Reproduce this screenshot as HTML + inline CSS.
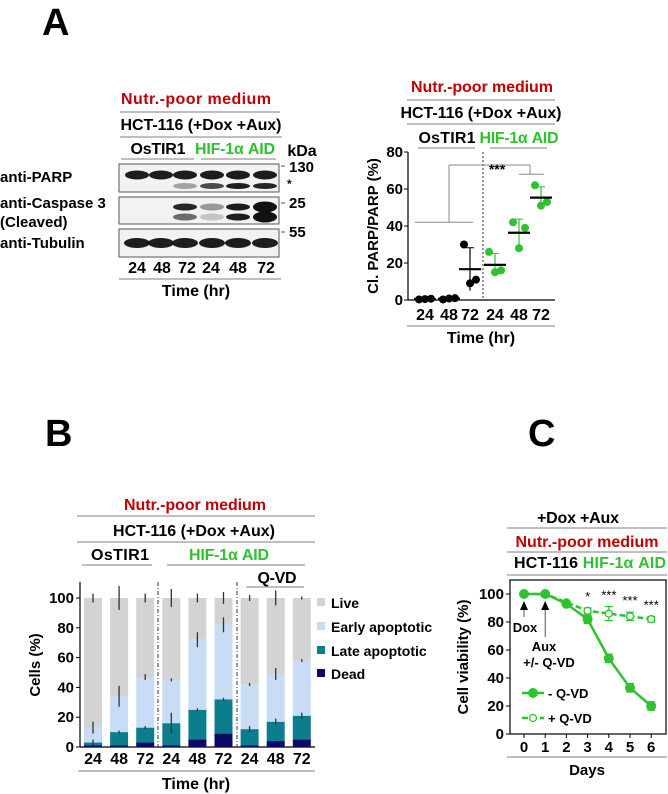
<!DOCTYPE html>
<html><head><meta charset="utf-8"><style>
html,body{margin:0;padding:0;background:#fff}
svg{display:block;font-family:"Liberation Sans",Arial,sans-serif;font-weight:bold}
</style></head><body>
<svg id="fig" width="668" height="794" viewBox="0 0 668 794" xmlns="http://www.w3.org/2000/svg">
<text x="42" y="35" font-size="38">A</text>
<text x="45" y="446" font-size="38">B</text>
<text x="528" y="446" font-size="38">C</text>

<g font-size="16" text-anchor="middle">
<text x="196" y="104" fill="#c00000" textLength="150">Nutr.-poor medium</text>
<line x1="120" y1="112" x2="280" y2="112" stroke="#999" stroke-width="1.2"/>
<text x="201" y="130" textLength="161">HCT-116 (+Dox +Aux)</text>
<line x1="120" y1="137" x2="282" y2="137" stroke="#999" stroke-width="1.2"/>
<text x="158" y="154" textLength="55">OsTIR1</text>
<text x="235" y="154" fill="#2ec22e" textLength="80">HIF-1α AID</text>
<line x1="121" y1="159" x2="194" y2="159" stroke="#999" stroke-width="1.2"/>
<line x1="201" y1="159" x2="276" y2="159" stroke="#999" stroke-width="1.2"/>
<text x="302" y="156">kDa</text>
</g>
<g font-size="15">
<text x="0" y="182">anti-PARP</text>
<text x="0" y="208">anti-Caspase 3</text>
<text x="0" y="227">(Cleaved)</text>
<text x="0" y="248">anti-Tubulin</text>
</g>
<g font-size="15">
<line x1="281" y1="166" x2="285" y2="166" stroke="#555"/><text x="289" y="172">130</text>
<text x="287" y="188" font-size="12">*</text>
<line x1="281" y1="203" x2="285" y2="203" stroke="#555"/><text x="289" y="208">25</text>
<line x1="281" y1="232" x2="285" y2="232" stroke="#555"/><text x="289" y="237">55</text>
</g>
<g id="blots"></g>
<g font-size="16" text-anchor="middle">
<text x="137" y="273">24</text><text x="162" y="273">48</text><text x="187" y="273">72</text>
<text x="211" y="273">24</text><text x="238" y="273">48</text><text x="266" y="273">72</text>
<line x1="119" y1="279" x2="281" y2="279" stroke="#999" stroke-width="1.2"/>
<text x="196" y="296">Time (hr)</text>
</g>

<g font-size="16" text-anchor="middle">
<text x="482" y="92" fill="#c00000" textLength="142">Nutr.-poor medium</text>
<line x1="407" y1="100" x2="555" y2="100" stroke="#999" stroke-width="1.2"/>
<text x="481" y="118" textLength="161">HCT-116 (+Dox +Aux)</text>
<line x1="407" y1="124" x2="555" y2="124" stroke="#999" stroke-width="1.2"/>
<text x="447" y="143" textLength="57">OsTIR1</text>
<text x="519" y="143" fill="#2ec22e" textLength="79">HIF-1α AID</text>
<line x1="418" y1="148" x2="475" y2="148" stroke="#999" stroke-width="1.2"/>
<line x1="490" y1="148" x2="547" y2="148" stroke="#999" stroke-width="1.2"/>
</g>
<g id="scatter"></g>

<g font-size="16" text-anchor="middle">
<text x="195" y="510" fill="#c00000" textLength="142">Nutr.-poor medium</text>
<line x1="77" y1="516" x2="315" y2="516" stroke="#999" stroke-width="1.2"/>
<text x="194" y="536" textLength="162">HCT-116 (+Dox +Aux)</text>
<line x1="77" y1="542" x2="315" y2="542" stroke="#999" stroke-width="1.2"/>
<text x="120" y="560" textLength="58">OsTIR1</text>
<text x="229" y="560" fill="#2ec22e" textLength="80">HIF-1α AID</text>
<line x1="82" y1="565" x2="152" y2="565" stroke="#999" stroke-width="1.2"/>
<line x1="167" y1="565" x2="305" y2="565" stroke="#999" stroke-width="1.2"/>
<text x="277" y="583" textLength="39">Q-VD</text>
<line x1="246" y1="587" x2="304" y2="587" stroke="#999" stroke-width="1.2"/>
</g>
<g id="bars"></g>

<g font-size="16" text-anchor="middle">
<text x="578" y="523" textLength="82">+Dox +Aux</text>
<line x1="507" y1="528" x2="667" y2="528" stroke="#999" stroke-width="1.2"/>
<text x="587" y="547" fill="#c00000" textLength="143">Nutr.-poor medium</text>
<line x1="507" y1="552" x2="667" y2="552" stroke="#999" stroke-width="1.2"/>
<text x="514" y="568" text-anchor="start" textLength="152"><tspan>HCT-116 </tspan><tspan fill="#2ec22e">HIF-1α AID</tspan></text>
<line x1="507" y1="575" x2="667" y2="575" stroke="#999" stroke-width="1.2"/>
</g>
<g id="linechart"></g>

<script>
const scatterGroups = ["24", "48", "72", "24", "48", "72"];
const scatterIsHif = [false, false, false, true, true, true];
const scatterRep1 = [0.3, 0.3, 30, 26, 42, 62];
const scatterRep2 = [0.5, 0.8, 9, 15, 28, 51];
const scatterRep3 = [0.7, 1.0, 11, 16, 39, 53];
const scatterTicks = [0, 20, 40, 60, 80];

const barCategories = ["24", "48", "72", "24", "48", "72", "24", "48", "72"];
const deadVals = [1, 1, 3, 1, 5, 9, 1, 4, 5];
const lateVals = [2, 9, 10, 15, 20, 23, 11, 13, 16];
const earlyVals = [10, 24, 34, 29, 47, 50, 30, 32, 37];
const liveVals = [87, 66, 53, 55, 28, 18, 58, 51, 42];
const lateErr = [2, 1, 1, 7, 1, 1, 2, 2, 2];
const earlyErr = [4, 7, 2, 1, 5, 5, 1, 4, 1];
const liveErr = [3, 8, 3, 6, 3, 4, 2, 5, 1];
const barTicks = [0, 20, 40, 60, 80, 100];
const legendLabels = ["Live", "Early apoptotic", "Late apoptotic", "Dead"];

const days = [0, 1, 2, 3, 4, 5, 6];
const minusQvd = [100, 100, 93, 82, 54, 33, 20];
const minusQvdErr = [0, 0, 1, 3, 3, 3, 3];
const plusQvd = [100, 100, 94, 88, 86, 84, 82];
const plusQvdErr = [0, 0, 1, 2, 5, 3, 2];
const sigLabels = ["", "", "", "*", "***", "***", "***"];
const lineTicks = [0, 20, 40, 60, 80, 100];

const NS = "http://www.w3.org/2000/svg";
function mk(parent, tag, attrs, text) {
  const e = document.createElementNS(NS, tag);
  for (const k in attrs) e.setAttribute(k, attrs[k]);
  if (text !== undefined) e.textContent = text;
  parent.appendChild(e);
  return e;
}
const GREEN = "#2ec22e";

(function(){
  const g = document.getElementById("blots");
  const lanes = [137, 161, 185, 212, 238, 265];
  const boxes = [[164,192],[197,224],[229,257]];
  boxes.forEach((b,i)=>{
    const r = mk(g, "rect", {x:119, y:b[0], width:160, height:b[1]-b[0], fill:"#f2f2f2", stroke:"#555", "stroke-width":1});
    
    
  });
  const band = (x, y, w, h, op) => mk(g, "ellipse", {cx:x, cy:y, rx:w/2, ry:h/2, fill:"#111", opacity:op});
  lanes.forEach(x => band(x, 175, 24, 9, 0.95));
  [0,0,0.35,0.75,0.95,0.9].forEach((o,i)=>{ if(o) band(lanes[i], 186, 24, 6, o); });
  [0,0,0.9,0.4,0.95,1].forEach((o,i)=>{ if(o) band(lanes[i], 207, 24, 7+(i==5?4:0), o); });
  [0,0,0.6,0.2,0.95,1].forEach((o,i)=>{ if(o) band(lanes[i], 217, 24, 7+(i==5?4:0), o); });
  lanes.forEach(x => band(x, 243, 26, 10, 0.95));
})();

(function(){
  const g = document.getElementById("scatter");
  const x0 = 408, xEnd = 555, yZero = 300, yTop = 152, vmax = 80;
  const ys = v => yZero - (v / vmax) * (yZero - yTop);
  const centers = [425, 449, 470, 495, 519, 541];
  mk(g, "line", {x1:x0, y1:yTop, x2:x0, y2:yZero, stroke:"#000", "stroke-width":1.2});
  mk(g, "line", {x1:x0, y1:yZero, x2:xEnd, y2:yZero, stroke:"#000", "stroke-width":1.2});
  scatterTicks.forEach(t=>{
    mk(g, "line", {x1:x0-4, y1:ys(t), x2:x0, y2:ys(t), stroke:"#000"});
    const tl = mk(g, "text", {x:x0-5, y:ys(t)+5, "font-size":15, "text-anchor":"end"}, t);
    
    
  });
  const yl = mk(g, "text", {x:0, y:0, "font-size":15, "text-anchor":"middle", transform:"translate(378,226) rotate(-90)"}, "Cl. PARP/PARP (%)");
  
  
  mk(g, "line", {x1:483, y1:yTop, x2:483, y2:yZero, stroke:"#333", "stroke-dasharray":"2,2", "stroke-width":1});
  const gc = "#888";
  mk(g, "line", {x1:centers[0]-10, y1:ys(42), x2:centers[2]+3, y2:ys(42), stroke:gc});
  mk(g, "line", {x1:centers[1], y1:ys(42), x2:centers[1], y2:ys(73), stroke:gc});
  mk(g, "line", {x1:centers[1], y1:ys(73), x2:530, y2:ys(73), stroke:gc});
  mk(g, "line", {x1:530, y1:ys(73), x2:530, y2:ys(68), stroke:gc});
  mk(g, "line", {x1:centers[4], y1:ys(68), x2:centers[5]+3, y2:ys(68), stroke:gc});
  const st = mk(g, "text", {x:497, y:ys(73)+9, "font-size":14, "text-anchor":"middle"}, "***");
  
  
  const offs = [-6, 0, 6];
  scatterGroups.forEach((lab, i)=>{
    const vals = [scatterRep1[i], scatterRep2[i], scatterRep3[i]];
    const mean = vals.reduce((a,b)=>a+b,0)/3;
    const sd = Math.sqrt(vals.reduce((a,b)=>a+(b-mean)**2,0)/2);
    const col = scatterIsHif[i] ? GREEN : "#000";
    const cx = centers[i];
    mk(g, "line", {x1:cx, y1:ys(Math.max(0,mean-sd)), x2:cx, y2:ys(mean+sd), stroke:col, "stroke-width":1.2});
    mk(g, "line", {x1:cx-4, y1:ys(mean+sd), x2:cx+4, y2:ys(mean+sd), stroke:col});
    vals.forEach((v,k)=>{
      const c = mk(g, "circle", {cx:cx+offs[k], cy:ys(v), r:4, fill:col});
      
      
    });
    const m = mk(g, "line", {x1:cx-11, y1:ys(mean), x2:cx+11, y2:ys(mean), stroke:"#000", "stroke-width":2.2});
    
    
    const tl = mk(g, "text", {x:cx, y:320, "font-size":16, "text-anchor":"middle"}, lab);
    
    
  });
  mk(g, "line", {x1:407, y1:326, x2:555, y2:326, stroke:"#999", "stroke-width":1.2});
  const xt = mk(g, "text", {x:481, y:343, "font-size":16, "text-anchor":"middle"}, "Time (hr)");
  
  
})();

(function(){
  const g = document.getElementById("bars");
  const x0 = 80, xEnd = 315, yZero = 747, y100 = 598;
  const ys = v => yZero - v/100*(yZero - y100);
  const centers = barCategories.map((_, i) => 93 + i*26.1);
  const bw = 18;
  const cols = ["#d3d3d3", "#c8ddf5", "#0b7d8c", "#0a0a66"];
  mk(g, "line", {x1:x0, y1:582, x2:x0, y2:yZero, stroke:"#000", "stroke-width":1.2});
  mk(g, "line", {x1:x0, y1:yZero, x2:xEnd, y2:yZero, stroke:"#000", "stroke-width":1.2});
  barTicks.forEach(t=>{
    mk(g, "line", {x1:x0-4, y1:ys(t), x2:x0, y2:ys(t), stroke:"#000"});
    const tl = mk(g, "text", {x:x0-6, y:ys(t)+5, "font-size":15, "text-anchor":"end"}, t);
    
    
  });
  const yl = mk(g, "text", {x:0, y:0, "font-size":15, "text-anchor":"middle", transform:"translate(40,665) rotate(-90)"}, "Cells (%)");
  
  
  barCategories.forEach((lab, i)=>{
    const segs = [deadVals[i], lateVals[i], earlyVals[i], liveVals[i]];
    const segCols = [cols[3], cols[2], cols[1], cols[0]];
    const names = ["bar-dead", "bar-late-apoptotic", "bar-early-apoptotic", "bar-live"];
    let cum = 0;
    const tops = [];
    segs.forEach((v, k)=>{
      const r = mk(g, "rect", {x:centers[i]-bw/2, y:ys(cum+v), width:bw, height:ys(cum)-ys(cum+v), fill:segCols[k]});
      
      
      cum += v;
      tops.push(cum);
    });
    [[tops[1], lateErr[i]], [tops[2], earlyErr[i]], [tops[3], liveErr[i]]].forEach(([t, e])=>{
      if (e > 0) mk(g, "line", {x1:centers[i], y1:ys(t+e), x2:centers[i], y2:ys(Math.max(0,t-e)), stroke:"#333", "stroke-width":1.3});
    });
    const tl = mk(g, "text", {x:centers[i], y:764, "font-size":16, "text-anchor":"middle"}, lab);
    
    
  });
  [158, 237].forEach(x => mk(g, "line", {x1:x, y1:582, x2:x, y2:yZero, stroke:"#333", "stroke-dasharray":"4,2,1,2", "stroke-width":1}));
  mk(g, "line", {x1:78, y1:771, x2:315, y2:771, stroke:"#999", "stroke-width":1.2});
  const xt = mk(g, "text", {x:196, y:789, "font-size":16, "text-anchor":"middle"}, "Time (hr)");
  
  
  const lys = [603, 627, 651, 674];
  legendLabels.forEach((lab, k)=>{
    const s = mk(g, "rect", {x:317, y:lys[k]-5, width:8, height:8, fill:cols[k]});
    
    
    const t = mk(g, "text", {x:331, y:lys[k]+5, "font-size":14}, lab);
    
    
  });
})();

(function(){
  const g = document.getElementById("linechart");
  const yZero = 734, y100 = 594;
  const ys = v => yZero - v/100*(yZero - y100);
  const xs = d => 524 + d*21.2;
  mk(g, "rect", {x:510, y:580, width:156, height:yZero-580, fill:"none", stroke:"#000", "stroke-width":1.2});
  lineTicks.forEach(t=>{
    mk(g, "line", {x1:506, y1:ys(t), x2:510, y2:ys(t), stroke:"#000"});
    const tl = mk(g, "text", {x:504, y:ys(t)+5, "font-size":15, "text-anchor":"end"}, t);
    
    
  });
  days.forEach(d=>{
    mk(g, "line", {x1:xs(d), y1:yZero, x2:xs(d), y2:yZero+4, stroke:"#000"});
    const tl = mk(g, "text", {x:xs(d), y:752, "font-size":15, "text-anchor":"middle"}, d);
    
    
  });
  mk(g, "line", {x1:507, y1:757, x2:667, y2:757, stroke:"#999", "stroke-width":1.2});
  const xt = mk(g, "text", {x:587, y:775, "font-size":15, "text-anchor":"middle"}, "Days");
  
  
  const yl = mk(g, "text", {x:0, y:0, "font-size":15, "text-anchor":"middle", transform:"translate(468,657) rotate(-90)"}, "Cell viability (%)");
  
  
  const pPlus = days.map((d,i)=>xs(d)+","+ys(plusQvd[i])).join(" ");
  const lp = mk(g, "polyline", {points:pPlus, fill:"none", stroke:GREEN, "stroke-width":2.5, "stroke-dasharray":"6,3"});
  
  
  const pMinus = days.map((d,i)=>xs(d)+","+ys(minusQvd[i])).join(" ");
  const lm = mk(g, "polyline", {points:pMinus, fill:"none", stroke:GREEN, "stroke-width":2.5});
  
  
  const eb = (x, v, e) => {
    if (!e) return;
    mk(g, "line", {x1:x, y1:ys(v+e), x2:x, y2:ys(v-e), stroke:GREEN, "stroke-width":1.2});
    mk(g, "line", {x1:x-4, y1:ys(v+e), x2:x+4, y2:ys(v+e), stroke:GREEN, "stroke-width":1.2});
    mk(g, "line", {x1:x-4, y1:ys(v-e), x2:x+4, y2:ys(v-e), stroke:GREEN, "stroke-width":1.2});
  };
  days.forEach((d,i)=>{
    eb(xs(d), plusQvd[i], plusQvdErr[i]);
    const c = mk(g, "circle", {cx:xs(d), cy:ys(plusQvd[i]), r:3.5, fill:"#fff", stroke:GREEN, "stroke-width":1.3});
    
    
  });
  days.forEach((d,i)=>{
    eb(xs(d), minusQvd[i], minusQvdErr[i]);
    const c = mk(g, "circle", {cx:xs(d), cy:ys(minusQvd[i]), r:5, fill:GREEN});
    
    
    if (sigLabels[i]) {
      const s = mk(g, "text", {x:xs(d), y:ys(Math.max(plusQvd[i]+plusQvdErr[i], minusQvd[i]))-7, "font-size":13, "text-anchor":"middle", "font-weight":"normal"}, sigLabels[i]);
      
      
    }
  });
  [[0, 617], [1, 637]].forEach(([d, yb])=>{
    mk(g, "line", {x1:xs(d), y1:608, x2:xs(d), y2:yb, stroke:"#555", "stroke-width":1});
    mk(g, "polygon", {points:`${xs(d)-4},610 ${xs(d)+4},610 ${xs(d)},601`, fill:"#000"});
  });
  const t1 = mk(g, "text", {x:xs(0)+1, y:632, "font-size":13, "text-anchor":"middle"}, "Dox");
  
  
  const t2 = mk(g, "text", {x:544, y:651, "font-size":13, "text-anchor":"middle"}, "Aux");
  
  
  const t3 = mk(g, "text", {x:549, y:667, "font-size":13, "text-anchor":"middle"}, "+/- Q-VD");
  
  
  mk(g, "line", {x1:522, y1:693, x2:544, y2:693, stroke:GREEN, "stroke-width":2.5});
  mk(g, "circle", {cx:533, cy:693, r:5, fill:GREEN});
  const l1 = mk(g, "text", {x:548, y:698, "font-size":13}, "- Q-VD");
  
  
  mk(g, "line", {x1:522, y1:718, x2:544, y2:718, stroke:GREEN, "stroke-width":2.5, "stroke-dasharray":"6,3"});
  mk(g, "circle", {cx:533, cy:718, r:3.5, fill:"#fff", stroke:GREEN, "stroke-width":1.3});
  const l2 = mk(g, "text", {x:548, y:723, "font-size":13}, "+ Q-VD");
  
  
})();
</script>
</svg>
</body></html>
